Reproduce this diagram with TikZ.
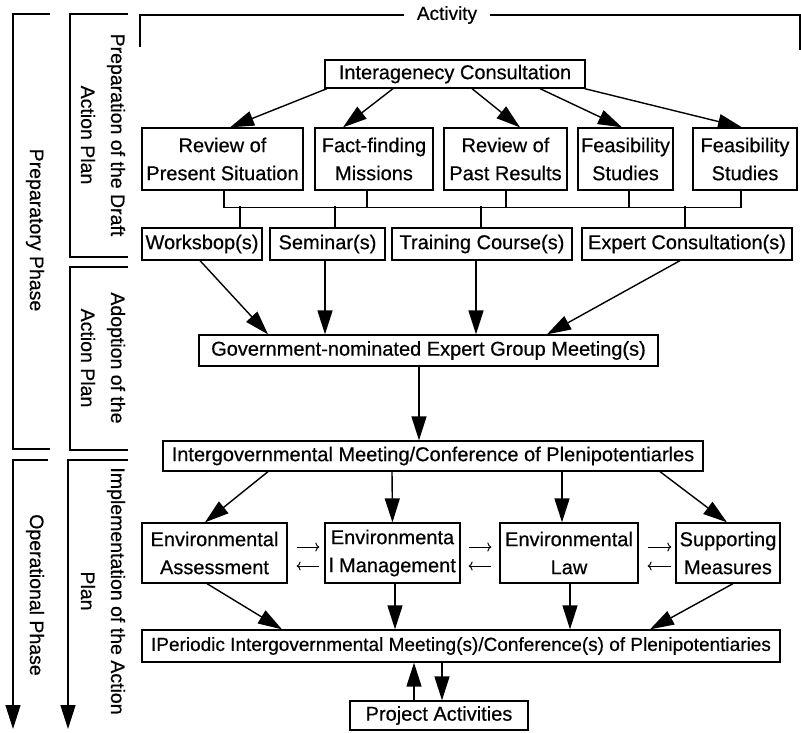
\documentclass[tikz,border=0pt]{standalone}
\usepackage{fontspec}
\setmainfont{Liberation Sans}[FakeBold=0.5]
\usetikzlibrary{arrows.meta}
\begin{document}
\begin{tikzpicture}[x=1pt,y=-1pt,
  box/.style={draw,line width=1.3pt,inner sep=0pt,align=center,font=\fontsize{20}{28}\selectfont},
  lab/.style={rotate=-90,align=center,font=\fontsize{19.5}{30}\selectfont},
  big/.style={-{Triangle[length=24pt,width=15pt]},line width=1.4pt},
  small/.style={-{To[length=4pt,width=9pt]},line width=1pt},
  brk/.style={line width=1.3pt}]
\useasboundingbox (0,0) rectangle (801,733);

% left phase labels
\node[lab] (prep) at (35,230) {Preparatory Phase};
\node[lab] (oper) at (35,595) {Operational Phase};
\node[lab] (draft) at (103,135) {Preparation of the Draft\\Action Plan};
\node[lab] (adopt) at (103,358) {Adoption of the\\Action Plan};
\node[lab] (impl) at (103,591) {Implementation of the Action\\Plan};

\draw[brk] (50,14) -- (13,14) -- (13,449) -- (50,449);
\draw[brk] (128,14) -- (70,14) -- (70,257) -- (128,257);
\draw[brk] (128,267) -- (70,267) -- (70,450) -- (128,450);
\draw[big] (48,460) -- (13,460) -- (13,729);
\draw[big] (128,460) -- (68,460) -- (68,729);

% activity bracket
\node[font=\fontsize{19}{22}\selectfont,inner xsep=13pt,inner ysep=0pt] (act) at (447,15) {Activity};
\draw[brk] (140,47) |- (act.west);
\draw[brk] (act.east) -| (800,50);

% nodes
\node[box,minimum width=260pt,minimum height=28pt] (ic) at (455,74) {Interagenecy Consultation};

\node[box,minimum width=161pt,minimum height=62pt] (rp) at (222.5,159) {Review of\\Present Situation};
\node[box,minimum width=118pt,minimum height=62pt] (ff) at (374,159) {Fact-finding\\Missions};
\node[box,minimum width=123pt,minimum height=62pt] (rpr) at (505.5,159) {Review of\\Past Results};
\node[box,minimum width=95pt,minimum height=62pt] (fs1) at (625.5,159) {Feasibility\\Studies};
\node[box,minimum width=104pt,minimum height=62pt] (fs2) at (745,159) {Feasibility\\Studies};

\node[box,minimum width=120pt,minimum height=32pt] (ws) at (202,244) {Worksbop(s)};
\node[box,minimum width=115pt,minimum height=32pt] (sem) at (327.5,244) {Seminar(s)};
\node[box,minimum width=180pt,minimum height=32pt] (tc) at (482,244) {Training Course(s)};
\node[box,minimum width=210pt,minimum height=32pt] (ec) at (687,244) {Expert Consultation(s)};

\node[box,minimum width=459pt,minimum height=31pt] (gov) at (428.5,350.5) {Government-nominated Expert Group Meeting(s)};
\node[box,minimum width=540pt,minimum height=30pt] (igm) at (433,456) {Intergovernmental Meeting/Conference of Plenipotentiarles};

\node[box,minimum width=145pt,minimum height=60pt] (ea) at (214.5,553) {Environmental\\Assessment};
\node[box,minimum width=135pt,minimum height=60pt] (em) at (392.5,553) {Environmenta\\l Management};
\node[box,minimum width=138pt,minimum height=60pt] (el) at (569,553) {Environmental\\Law};
\node[box,minimum width=104pt,minimum height=60pt] (sm) at (728,553) {Supporting\\Measures};

\node[box,minimum width=638pt,minimum height=32pt,font=\fontsize{19}{28}\selectfont] (per) at (461,646) {IPeriodic Intergovernmental Meeting(s)/Conference(s) of Plenipotentiaries};
\node[box,minimum width=178pt,minimum height=29pt] (pa) at (439,715.5) {Project Activities};

% interagency arrows
\draw[big] ([xshift=-128pt]ic.south) -- ([xshift=7.5pt]rp.north);
\draw[big] ([xshift=-62pt]ic.south) -- ([xshift=-31pt]ff.north);
\draw[big] ([xshift=17pt]ic.south) -- ([xshift=14.5pt]rpr.north);
\draw[big] ([xshift=85pt]ic.south) -- ([xshift=-3.5pt]fs1.north);
\draw[big] ([xshift=-1pt]ic.south east) -- ([xshift=-3pt]fs2.north);

% bus
\draw[brk] ([xshift=1.5pt]rp.south) -- ++(0,17) coordinate (b1);
\draw[brk] ([xshift=-7pt]ff.south) -- ++(0,17);
\draw[brk] ([xshift=0.5pt]rpr.south) -- ++(0,17);
\draw[brk] ([xshift=3.5pt]fs1.south) -- ++(0,17);
\draw[brk] ([xshift=-4pt]fs2.south) -- ++(0,17) coordinate (b5);
\draw[brk] (b1) -- (b5);
\draw[brk] ([xshift=38pt]ws.north) -- ++(0,-21);
\draw[brk] ([xshift=7.5pt]sem.north) -- ++(0,-21);
\draw[brk] ([xshift=-1pt]tc.north) -- ++(0,-21);
\draw[brk] ([xshift=-2pt]ec.north) -- ++(0,-21);

% to government meeting
\draw[big] ([xshift=-2pt]ws.south) -- ([xshift=-160.5pt]gov.north);
\draw[big] ([xshift=-2.5pt]sem.south) -- ([xshift=-103.5pt]gov.north);
\draw[big] ([xshift=-6pt]tc.south) -- ([xshift=47.5pt]gov.north);
\draw[big] ([xshift=-7pt]ec.south) -- ([xshift=118.5pt]gov.north);
\draw[big] ([xshift=-9.5pt]gov.south) -- ([xshift=-14pt]igm.north);

% from intergovernmental meeting
\draw[big] ([xshift=-165pt]igm.south) -- ([xshift=-9.5pt]ea.north);
\draw[big] ([xshift=-41pt]igm.south) -- (em.north);
\draw[big] ([xshift=129pt]igm.south) -- ([xshift=-7pt]el.north);
\draw[big] ([xshift=227pt]igm.south) -- ([xshift=-1pt]sm.north);

% small two-way arrows
\draw[small] ([shift={(9pt,6pt)}]ea.east) -- ([shift={(-5pt,6pt)}]em.west);
\draw[small] ([shift={(-5pt,-13pt)}]em.west) -- ([shift={(9pt,-13pt)}]ea.east);
\draw[small] ([shift={(8pt,6pt)}]em.east) -- ([shift={(-8pt,6pt)}]el.west);
\draw[small] ([shift={(-8pt,-13pt)}]el.west) -- ([shift={(8pt,-13pt)}]em.east);
\draw[small] ([shift={(9pt,6pt)}]el.east) -- ([shift={(-4pt,6pt)}]sm.west);
\draw[small] ([shift={(-4pt,-13pt)}]sm.west) -- ([shift={(9pt,-13pt)}]el.east);

% to periodic meeting
\draw[big] ([xshift=-7.5pt]ea.south) -- ([xshift=-179pt]per.north);
\draw[big] ([xshift=2.5pt]em.south) -- ([xshift=-66pt]per.north);
\draw[big] ([xshift=1pt]el.south) -- ([xshift=109pt]per.north);
\draw[big] ([xshift=5pt]sm.south) -- ([xshift=189pt]per.north);

% project activities
\draw[big] ([xshift=-25pt]pa.north) -- ([xshift=-47pt]per.south);
\draw[big] ([xshift=-19pt]per.south) -- ([xshift=3pt]pa.north);
\end{tikzpicture}
\end{document}
